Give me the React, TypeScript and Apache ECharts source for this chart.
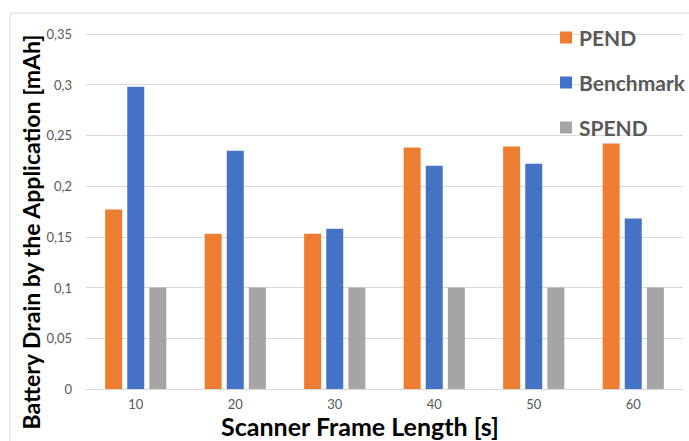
import React, { useEffect, useRef } from "react";
import * as echarts from "echarts";

// Scanner frame lengths in seconds
const frameLengths = ["10", "20", "30", "40", "50", "60"];

// Battery drain per approach [mAh]
const pendValues = [0.177, 0.153, 0.153, 0.238, 0.239, 0.242];
const benchmarkValues = [0.298, 0.235, 0.158, 0.22, 0.222, 0.168];
const spendValues = [0.1, 0.1, 0.1, 0.1, 0.1, 0.1];

const seriesNames = ["PEND", "Benchmark", "SPEND"];
const seriesColors = ["#ed7d31", "#4472c4", "#a5a5a5"];

const xTitle = "Scanner Frame Length [s]";
const yTitle = "Battery Drain by the Application [mAh]";

const FONT = "Lato, 'Noto Sans', sans-serif";

export default function App() {
  const ref = useRef<HTMLDivElement>(null);

  useEffect(() => {
    if (!ref.current) return;
    const chart = echarts.init(ref.current, null, { renderer: "svg" });
    const values = [pendValues, benchmarkValues, spendValues];

    chart.setOption({
      animation: false,
      backgroundColor: "#ffffff",
      textStyle: { fontFamily: FONT },
      grid: { left: 86, right: 6, top: 34, bottom: 52 },
      legend: {
        orient: "vertical",
        left: 555,
        top: 22,
        icon: "rect",
        itemWidth: 12,
        itemHeight: 12,
        itemGap: 24,
        data: seriesNames,
        textStyle: {
          fontFamily: FONT,
          fontSize: 21,
          fontWeight: "bold",
          color: "#595959",
          padding: [0, 0, 0, 2],
        },
      },
      xAxis: {
        type: "category",
        data: frameLengths,
        axisTick: { show: false },
        axisLine: { lineStyle: { color: "#d9d9d9", width: 1 } },
        axisLabel: {
          color: "#595959",
          fontSize: 13,
          lineHeight: 12,
          margin: 9,
          fontFamily: FONT,
        },
      },
      yAxis: {
        type: "value",
        min: 0,
        max: 0.35,
        interval: 0.05,
        axisLine: { show: false },
        axisTick: { show: false },
        splitLine: { lineStyle: { color: "#d9d9d9", width: 1 } },
        axisLabel: {
          color: "#595959",
          fontSize: 13,
          margin: 14,
          fontFamily: FONT,
          formatter: (v: number) =>
            v === 0 ? "0" : String(Number(v.toFixed(2))).replace(".", ","),
        },
      },
      series: seriesNames.map((name, i) => ({
        name,
        type: "bar",
        data: values[i],
        barWidth: 17,
        barGap: "30%",
        itemStyle: { color: seriesColors[i] },
      })),
      graphic: [
        {
          type: "rect",
          shape: { x: 10, y: 13, width: 700, height: 460 },
          style: { fill: "none", stroke: "#d9d9d9", lineWidth: 1 },
          silent: true,
          z: -10,
        },
        {
          type: "text",
          x: 360,
          y: 426,
          style: {
            text: xTitle,
            fontFamily: FONT,
            fontSize: 25,
            lineHeight: 24,
            fontWeight: "bold",
            fill: "#000000",
            align: "center",
            verticalAlign: "middle",
          },
        },
        {
          type: "text",
          x: 31,
          y: 232,
          rotation: Math.PI / 2,
          style: {
            text: yTitle,
            fontFamily: FONT,
            fontSize: 23,
            fontWeight: "bold",
            fill: "#000000",
            align: "center",
            verticalAlign: "middle",
          },
        },
      ],
    });

    return () => chart.dispose();
  }, []);

  return (
    <div
      ref={ref}
      style={{ position: "fixed", left: 0, top: 0, width: 689, height: 441 }}
    />
  );
}
